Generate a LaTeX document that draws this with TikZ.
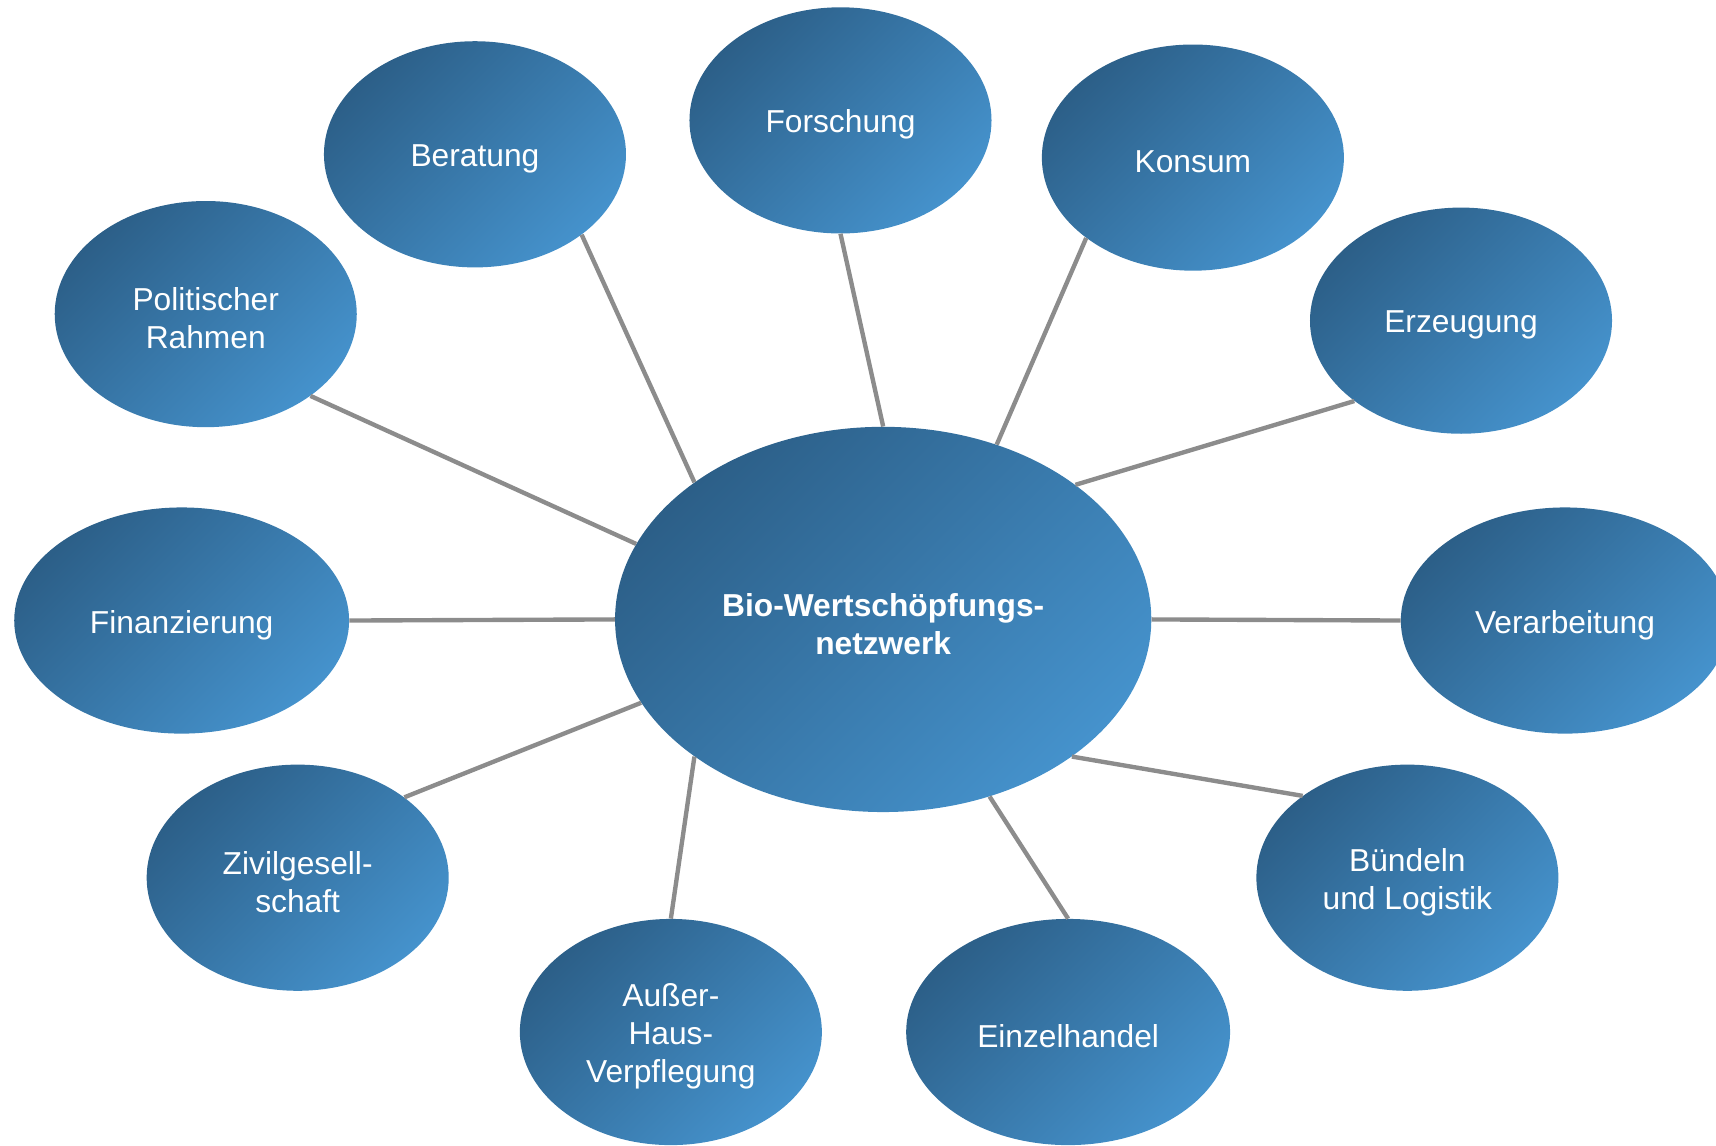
\documentclass[tikz,border=0pt]{standalone}
\usepackage{fontspec}
\setmainfont{Liberation Sans}
\usetikzlibrary{shapes.geometric}
\definecolor{blobdark}{HTML}{2C5F88}
\definecolor{bloblight}{HTML}{4592CC}
\definecolor{spoke}{HTML}{8C8C8C}
\begin{document}
\begin{tikzpicture}[x=0.75pt,y=-0.75pt,
	blobtext/.style={text=white,align=center,yshift=-3pt,
		font=\fontsize{21.75}{26.25}\selectfont},
	blob/.style={ellipse,inner sep=0pt,minimum width=207pt,minimum height=155pt,
		top color=blobdark,bottom color=bloblight,shading angle=45,
		label={[blobtext]center:#1}},
	hub/.style={blob={#1},minimum width=367.5pt,minimum height=264pt},
	spokeline/.style={line width=3pt,spoke}]
\useasboundingbox (0,0) rectangle (1568,1047);
\clip (0,0) rectangle (1568,1047);
		\node[hub={\bfseries Bio-Wertsch\"opfungs-\\\bfseries netzwerk}] (Z) at (807,566) {};
		\node[blob={Politischer\\Rahmen}] (A) at (188,287) {};
		\node[blob={Beratung}] (B) at (434,141) {};
		\node[blob={Forschung}] (C) at (768,110) {};
		\node[blob={Konsum}] (D) at (1090,144) {};
		\node[blob={Erzeugung}] (E) at (1335,293) {};
		\node[blob={Finanzierung},minimum width=229.5pt] (F) at (166,567) {};
		\node[blob={Verarbeitung},minimum width=225pt] (G) at (1430,567) {};
		\node[blob={Zivilgesell-\\schaft}] (H) at (272,802) {};
		\node[blob={Au\ss er-\\Haus-\\Verpflegung}] (I) at (613,943) {};
		\node[blob={Einzelhandel},minimum width=222pt] (J) at (976,943) {};
		\node[blob={B\"undeln\\und Logistik}] (K) at (1286,802) {};
		\draw[spokeline] (Z.163.8) -- (A.322.9);
		\draw[spokeline] (Z.144.4) -- (B.323.7);
		\draw[spokeline] (Z.90) -- (C.270);
		\draw[spokeline] (Z.57.2) -- (D.217);
		\draw[spokeline] (Z.35.7) -- (E.217.6);
		\draw[spokeline] (Z.180) -- (F.0);
		\draw[spokeline] (Z.0) -- (G.180);
		\draw[spokeline] (Z.199.8) -- (H.37);
		\draw[spokeline] (Z.216.1) -- (I.90);
		\draw[spokeline] (Z.301.9) -- (J.90);
		\draw[spokeline] (Z.324.3) -- (K.142.7);
\end{tikzpicture}
\end{document}
